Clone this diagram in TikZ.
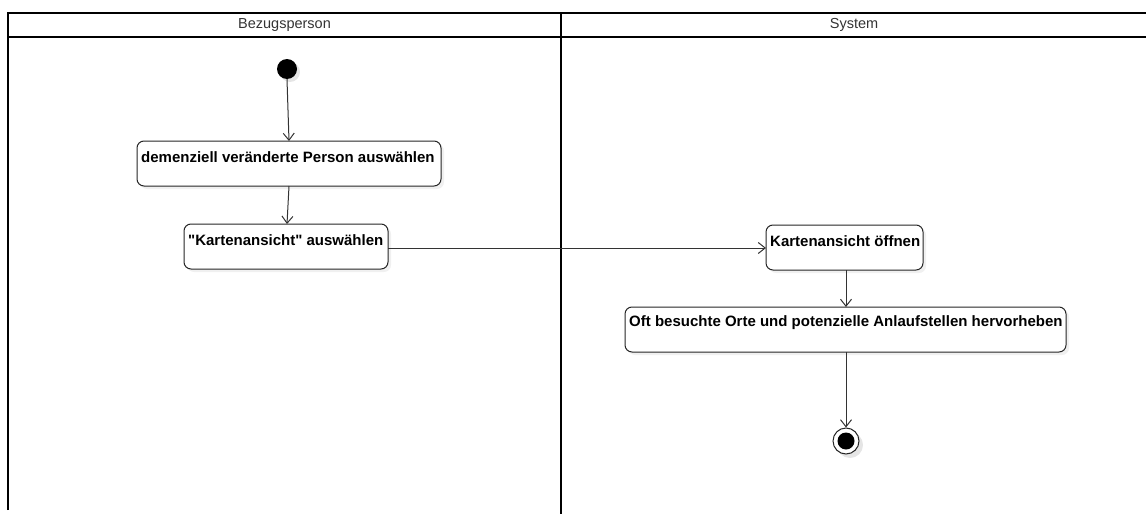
\documentclass[tikz,border=0pt]{standalone}
\usepackage{fontspec}
\setmainfont{Liberation Sans}[Ligatures=TeXOff]
\usetikzlibrary{arrows.meta,shadows}
\begin{document}
\begin{tikzpicture}[x=1pt,y=-1pt,
  lane/.style={line width=2pt,black},
  act/.style={draw=black!85,line width=1pt,rounded corners=7pt,fill=white,
    drop shadow={shadow xshift=3pt,shadow yshift=-3pt,opacity=0.12},inner sep=0pt},
  acttext/.style={font=\bfseries\fontsize{15}{17}\selectfont,anchor=west,inner sep=0pt},
  flow/.style={draw=black!80,line width=1pt,-{Straight Barb[length=7pt,width=11pt]}},
  hdr/.style={font=\fontsize{14.5}{16}\selectfont,text=black!80}]
\useasboundingbox (0,0) rectangle (1146,514);
% swimlanes
\draw[lane] (8,510) -- (8,13) -- (1146,13);
\draw[lane] (8,37) -- (1146,37);
\draw[lane] (561,13) -- (561,514);
\node[hdr] (h1) at (284.5,25) {Bezugsperson};
\node[hdr] (h2) at (854,25) {System};
% start
\fill[black!10] (290,72) circle (10);
\node[circle,fill=black,minimum size=20pt,inner sep=0pt] (start) at (287,69) {};
% activities
\path[act] (137,141) rectangle (441,186);
\coordinate (a1n) at (289,141); \coordinate (a1s) at (289,186);
\node[acttext] (t1) at (141,157) {demenziell veränderte Person auswählen};
\path[act] (184,224) rectangle (388,269);
\coordinate (a2n) at (287,224); \coordinate (a2e) at (388,248);
\node[acttext] (t2) at (188,240) {"Kartenansicht" auswählen};
\path[act] (766,225) rectangle (923,270);
\coordinate (a3w) at (766,248); \coordinate (a3s) at (846,270);
\node[acttext] (t3) at (770,241) {Kartenansicht öffnen};
\path[act] (625,307) rectangle (1066,352);
\coordinate (a4n) at (846,307); \coordinate (a4s) at (846,352);
\node[acttext] (t4) at (629,323) {Oft besuchte Orte und potenzielle Anlaufstellen hervorheben};
% end
\fill[black!10] (850,445) circle (13);
\node[circle,draw=black!85,line width=1pt,fill=white,minimum size=26pt,inner sep=0pt] (end) at (846,441) {};
\fill[black] (end.center) circle (8.5);
% flows
\draw[flow] (start.south) -- (a1n);
\draw[flow] (a1s) -- (a2n);
\draw[flow] (a2e) -- (a3w);
\draw[flow] (a3s) -- (a4n);
\draw[flow] (a4s) -- (end.north);
\end{tikzpicture}
\end{document}
